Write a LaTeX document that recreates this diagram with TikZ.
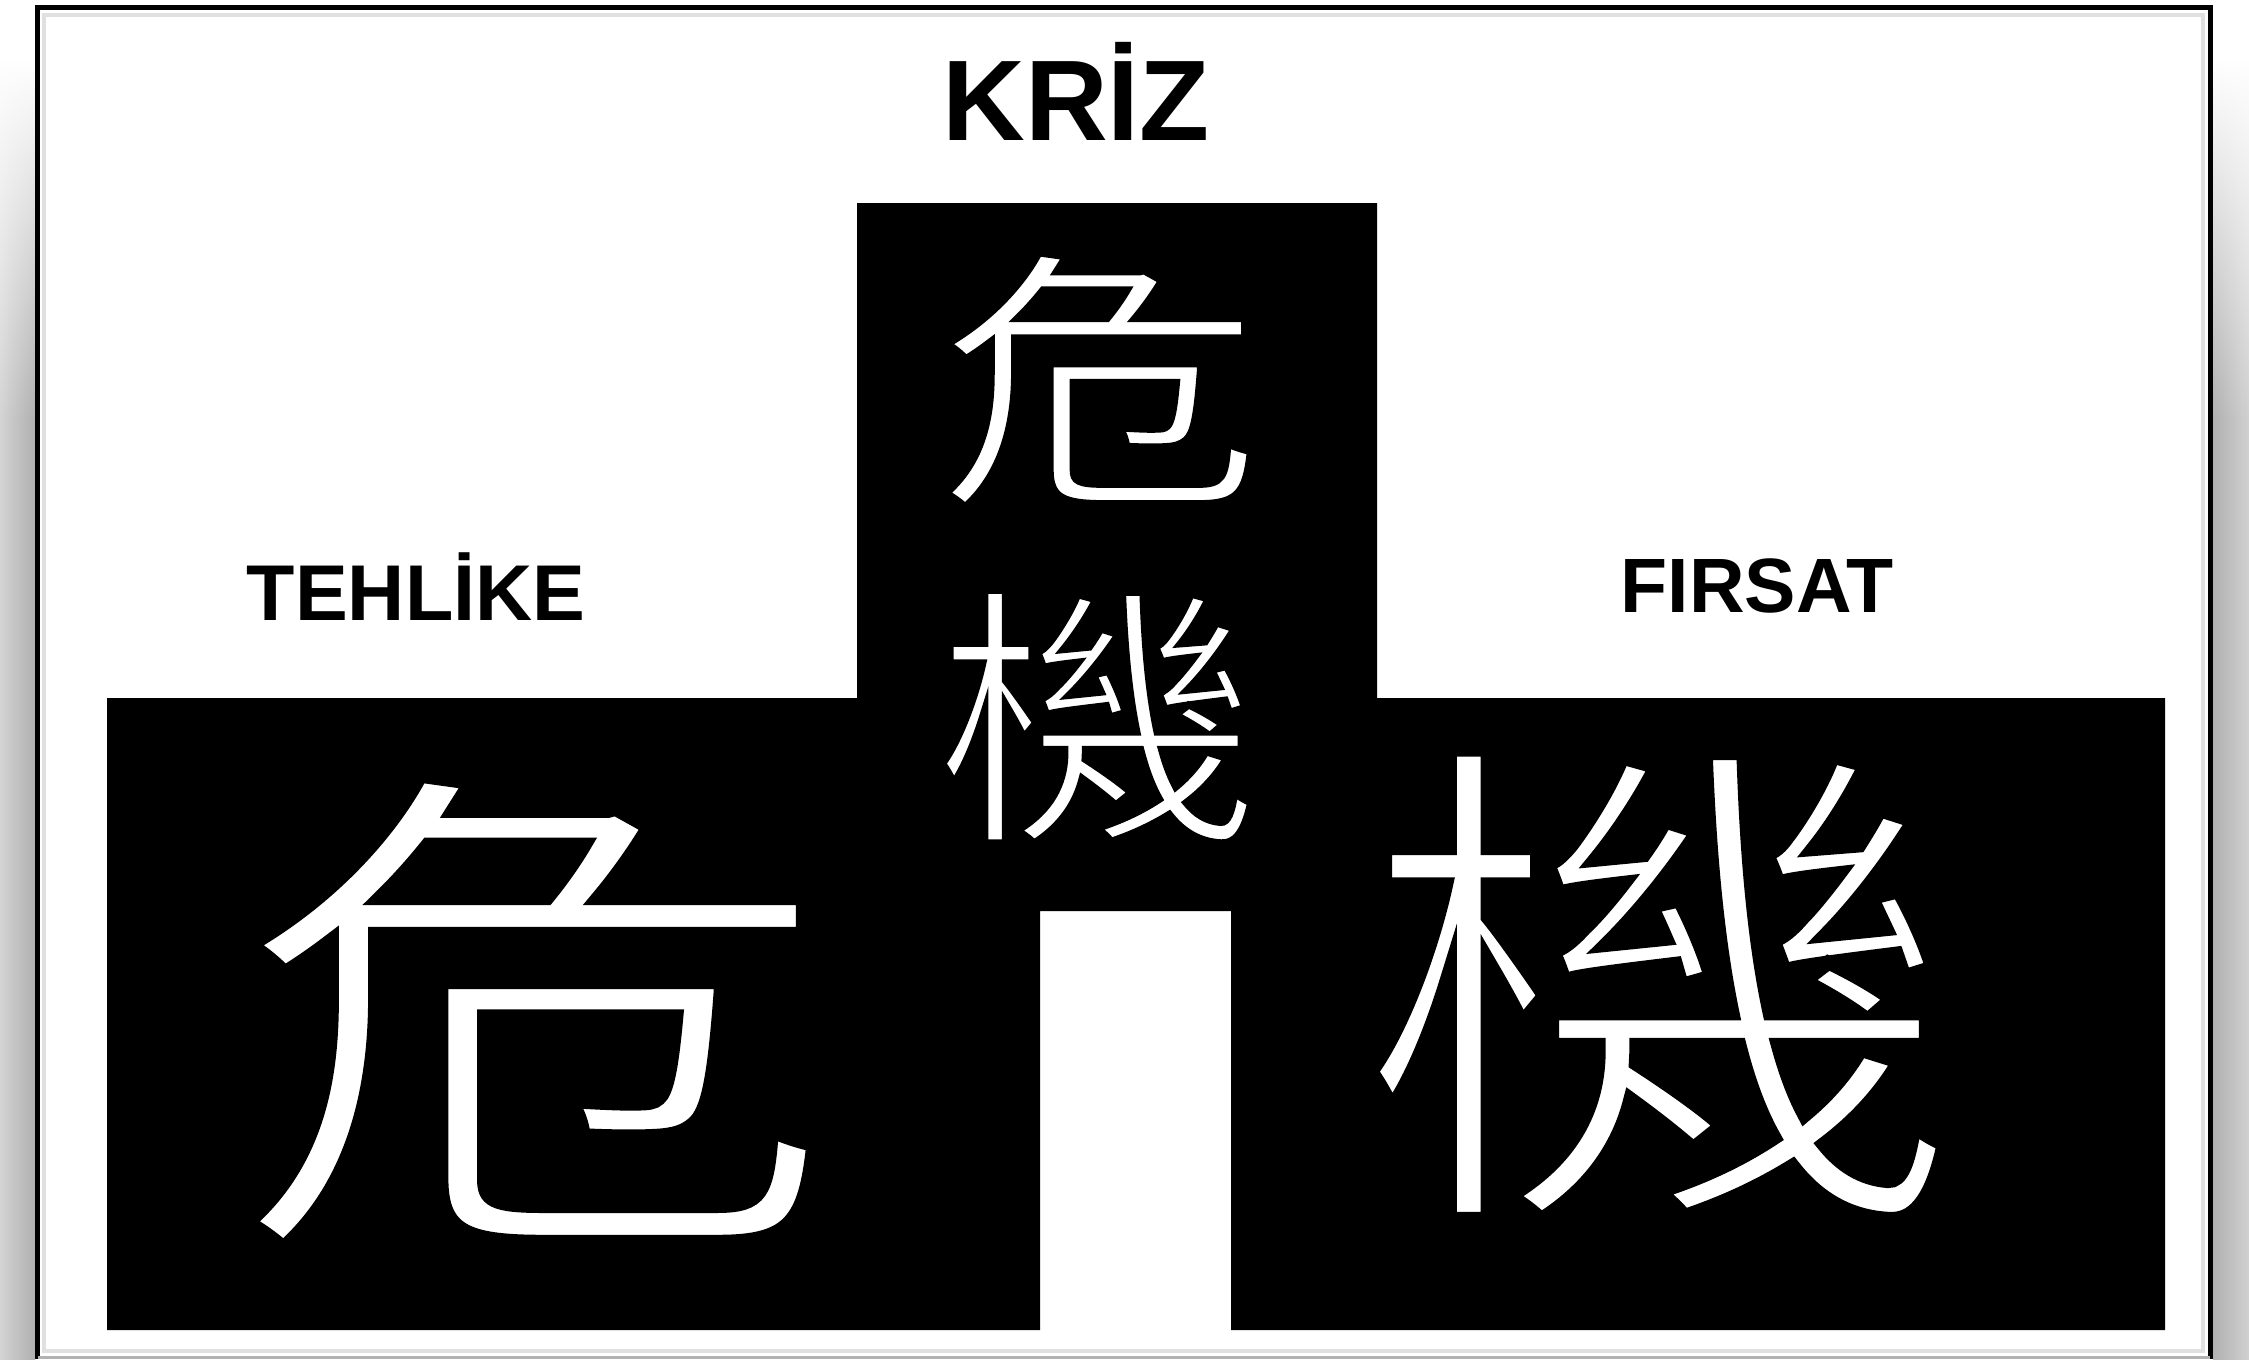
\documentclass[tikz,border=0pt]{standalone}
\usepackage{fontspec}
\setmainfont{Liberation Sans}
\newfontfamily\cjk{Noto Sans CJK TC}
\usetikzlibrary{fadings}
\newcommand{\thinglyph}[2]{\special{pdf:literal direct 2 Tr #1 w 0 0 0 RG}#2\special{pdf:literal direct 0 Tr}}
\begin{document}
\begin{tikzpicture}[x=0.01cm,y=-0.01cm,
  caplabel/.style={inner sep=0pt,anchor=base,text=black,font=\bfseries},
  hanzi/.style={inner sep=0pt,anchor=center,text=white},
  px/.style={line width=#1*0.01cm}]
\useasboundingbox (0,0) rectangle (2249,1359);
\fill[white] (0,0) rectangle (2249,1359);
% side shadows
\shade[left color=black!17,right color=black!31] (0,420) rectangle (35,1359);
\shade[left color=black!17,right color=black!31,path fading=north] (0,60) rectangle (35,421);
\shade[left color=black!31,right color=black!18] (2213,420) rectangle (2249,1359);
\shade[left color=black!31,right color=black!18,path fading=north] (2213,60) rectangle (2249,421);
% frame
\draw[black!12,px=4] (44,15) -- (44,1351) -- (2203,1351) -- (2203,15) -- cycle;
\draw[black,px=5] (37.5,1359) -- (37.5,7.5) -- (2210,7.5) -- (2210,1359);
\draw[black!30,px=3] (37.5,1357) -- (2210,1357);
% black shape
\fill[black] (107,1330) -- (107,698) -- (857,698) -- (857,203) -- (1377,203)
  -- (1377,698) -- (2165,698) -- (2165,1330) -- (1231,1330) -- (1231,911)
  -- (1040,911) -- (1040,1330) -- cycle;
% labels
\node[caplabel] (kriz) at (1076,140) {\fontsize{32.6}{36}\selectfont KRİZ};
\node[caplabel] (tehlike) at (416,620) {\fontsize{22.5}{26}\selectfont TEHLİKE};
\node[caplabel] (firsat) at (1757,612) {\fontsize{21.9}{26}\selectfont FIRSAT};
% characters
\node[hanzi] (weiS) at (1100,380) {\scalebox{1.2}[1]{\cjk\fontsize{78}{80}\selectfont\thinglyph{1.9}{危}}};
\node[hanzi] (jiS) at (1098,717) {\scalebox{1.2}[1]{\cjk\fontsize{78}{80}\selectfont\thinglyph{1.9}{機}}};
\node[hanzi] (weiL) at (534,1012) {\scalebox{1.2}[1]{\cjk\fontsize{145}{150}\selectfont\thinglyph{3.8}{危}}};
\node[hanzi] (jiL) at (1660,985) {\scalebox{1.2}[1]{\cjk\fontsize{145}{150}\selectfont\thinglyph{3.8}{機}}};
\end{tikzpicture}
\end{document}
